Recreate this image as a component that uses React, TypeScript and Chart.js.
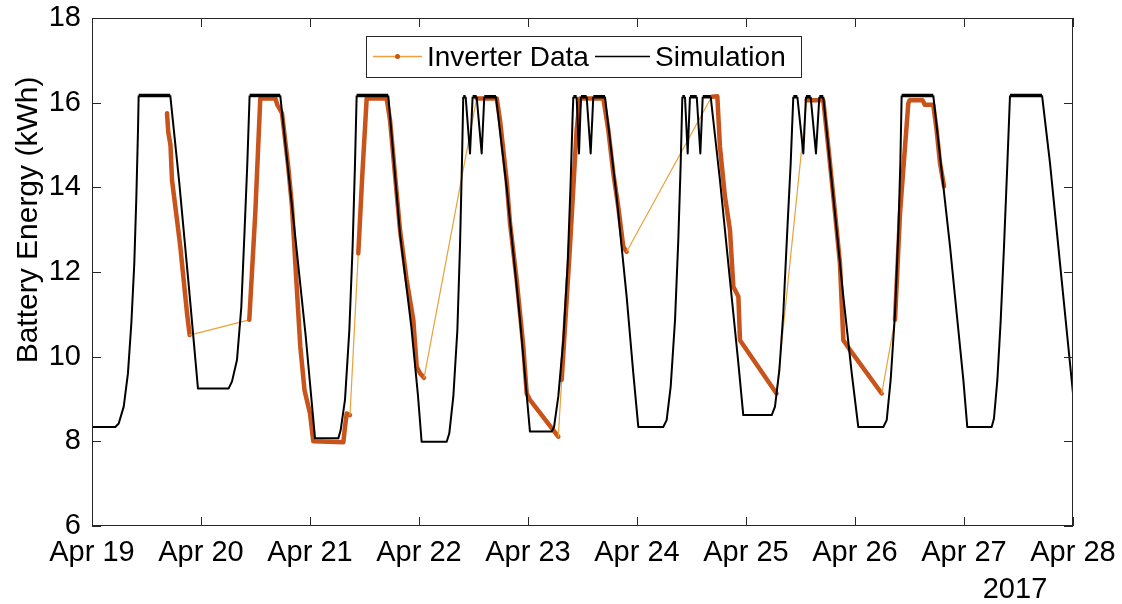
import React, { useEffect, useRef } from 'react';
import { Chart, registerables } from 'chart.js';

Chart.register(...registerables);

// x values are days since Apr 19 2017 00:00
const dayLabels = ['Apr 19', 'Apr 20', 'Apr 21', 'Apr 22', 'Apr 23', 'Apr 24', 'Apr 25', 'Apr 26', 'Apr 27', 'Apr 28'];
const yearLabel = '2017';
const yAxisTitle = 'Battery Energy (kWh)';
const seriesNames = ['Inverter Data', 'Simulation'];

const simDays = [
  0, 0.214, 0.245, 0.291, 0.33, 0.361, 0.388, 0.407, 0.422, 0.428, 0.718,
  0.801, 0.887, 0.972, 1.254, 1.284, 1.33, 1.37, 1.4, 1.425, 1.446, 1.727,
  1.881, 1.96, 2.046, 2.26, 2.281, 2.321, 2.361, 2.391, 2.413, 2.428, 2.718,
  2.826, 2.93, 2.99, 3.024, 3.254, 3.278, 3.315, 3.352, 3.376, 3.394, 3.406,
  3.428, 3.468, 3.492, 3.529, 3.575, 3.599, 3.706,
  3.804, 3.926, 4.018, 4.217, 4.239, 4.278, 4.324, 4.364, 4.392, 4.41, 4.416,
  4.446, 4.468, 4.486, 4.538, 4.575, 4.599, 4.706,
  4.813, 4.905, 4.966, 5.012, 5.241, 5.272, 5.309, 5.349, 5.379, 5.401, 5.416,
  5.44, 5.465, 5.486, 5.548, 5.581, 5.603, 5.676,
  5.761, 5.853, 5.93, 5.975, 6.236, 6.266, 6.306, 6.342, 6.379, 6.41, 6.434,
  6.471, 6.526, 6.55, 6.593, 6.642, 6.673, 6.709,
  6.801, 6.893, 6.97, 7.03, 7.26, 7.291, 7.327, 7.367, 7.398, 7.416, 7.428, 7.718,
  7.872, 7.933, 7.994, 8.03, 8.254, 8.275, 8.306, 8.337, 8.367, 8.398, 8.422, 8.716,
  8.789, 8.881, 8.957, 9.0,
];
const simEnergy = [
  8.34, 8.34, 8.42, 8.82, 9.61, 10.79, 12.2, 13.78, 15.35, 16.17, 16.17,
  14.1, 11.7, 9.25, 9.25, 9.41, 9.92, 11.18, 12.99, 14.57, 16.17, 16.17,
  12.44, 10.5, 8.07, 8.07, 8.26, 8.98, 10.63, 12.6, 14.57, 16.17, 16.17,
  12.9, 10.7, 9.1, 7.99, 7.99, 8.19, 9.06, 10.63, 12.6, 14.57, 16.14,
  16.14, 14.8, 16.14, 16.14, 14.8, 16.14, 16.14,
  14.0, 10.9, 8.23, 8.23, 8.34, 9.06, 10.39, 12.2, 14.17, 15.75, 16.14,
  16.14, 14.8, 16.14, 16.14, 14.8, 16.14, 16.14,
  13.78, 11.42, 9.61, 8.34, 8.34, 8.5, 9.29, 10.87, 12.76, 14.57, 16.14,
  16.14, 14.8, 16.14, 16.14, 14.8, 16.14, 16.14,
  14.17, 11.81, 9.84, 8.62, 8.62, 8.82, 9.68, 11.02, 12.99, 14.57, 16.14,
  16.14, 14.8, 16.14, 16.14, 14.8, 16.14, 16.14,
  13.78, 11.42, 9.61, 8.34, 8.34, 8.5, 9.45, 11.02, 12.99, 14.57, 16.17, 16.17,
  12.6, 11.02, 9.45, 8.34, 8.34, 8.54, 9.45, 10.87, 12.6, 14.57, 16.17, 16.17,
  14.57, 12.2, 10.24, 9.13,
];

// Inverter data: continuous logged runs as [day, kWh]
const inverterRun1: [number, number][] = [
  [0.688, 15.75], [0.7, 15.3], [0.72, 15.0], [0.734, 14.17], [0.78, 13.23],
  [0.81, 12.6], [0.841, 11.81], [0.872, 11.02], [0.896, 10.51],
];
const inverterRun2: [number, number][] = [
  [1.443, 10.87], [1.498, 13.39], [1.544, 16.1], [1.682, 16.1], [1.7, 15.95],
  [1.743, 15.75], [1.8, 14.5], [1.835, 13.54], [1.87, 12.0], [1.911, 10.24],
  [1.95, 9.2], [2.0, 8.66], [2.03, 8.0], [2.306, 7.98], [2.321, 8.34],
  [2.337, 8.66], [2.367, 8.62],
];
const inverterRun3: [number, number][] = [
  [2.443, 12.44], [2.48, 14.3], [2.52, 16.1], [2.703, 16.1], [2.734, 15.59],
  [2.826, 12.99], [2.887, 11.81], [2.948, 10.87], [2.979, 9.76], [3.009, 9.61],
  [3.046, 9.5],
];
const inverterRun4: [number, number][] = [
  [3.529, 16.1], [3.713, 16.1], [3.743, 15.59], [3.804, 14.17], [3.835, 13.15],
  [3.896, 11.81], [3.957, 10.24], [3.988, 9.13], [4.018, 8.98], [4.278, 8.11],
];
const inverterRun5: [number, number][] = [
  [4.309, 9.45], [4.385, 12.6], [4.446, 15.35], [4.477, 16.1], [4.691, 16.1],
  [4.737, 15.35], [4.783, 14.33], [4.828, 13.54], [4.874, 12.6], [4.905, 12.48],
];
const inverterRun6: [number, number][] = [
  [5.685, 16.14], [5.737, 16.15], [5.761, 14.96], [5.807, 13.78], [5.853, 12.99],
  [5.884, 11.65], [5.93, 11.42], [5.945, 10.39], [6.28, 9.13],
];
const inverterRun7: [number, number][] = [
  [6.557, 16.06], [6.709, 16.06], [6.755, 14.96], [6.817, 13.39], [6.862, 12.2],
  [6.893, 10.39], [6.954, 10.16], [7.245, 9.13],
];
const inverterRun8: [number, number][] = [
  [7.367, 10.87], [7.413, 13.39], [7.459, 14.96], [7.489, 15.98], [7.5, 16.06],
  [7.62, 16.06], [7.64, 15.95], [7.718, 15.95], [7.749, 15.35], [7.78, 14.57],
  [7.817, 14.02],
];
const inverterRuns = [
  inverterRun1, inverterRun2, inverterRun3, inverterRun4,
  inverterRun5, inverterRun6, inverterRun7, inverterRun8,
];

const ORANGE = '#C8531B';
const ORANGE_THIN = '#EBA03A';
const AXIS = '#262626';
const FONT = "'Liberation Sans', Arial, Helvetica, sans-serif";

export default function App() {
  const canvasRef = useRef<HTMLCanvasElement | null>(null);

  useEffect(() => {
    document.body.style.margin = '0';
    const canvas = canvasRef.current;
    if (!canvas) return;

    const invData: { x: number; y: number }[] = [];
    const runStarts = new Set<number>();
    inverterRuns.forEach((run) => {
      runStarts.add(invData.length);
      run.forEach(([x, y]) => invData.push({ x, y }));
    });
    const simData = simDays.map((d, i) => ({ x: d, y: simEnergy[i] }));

    const zeroPad = (s: any) => {
      s.paddingTop = 0;
      s.paddingBottom = 0;
      s.paddingLeft = 0;
      s.paddingRight = 0;
    };

    const framePlugin = {
      id: 'matlabFrame',
      afterDraw(chart: any) {
        const { ctx, chartArea } = chart;
        const { left, right, top, bottom } = chartArea;
        const xs = chart.scales.x;
        const ys = chart.scales.y;
        ctx.save();
        ctx.strokeStyle = AXIS;
        ctx.lineWidth = 1;
        ctx.strokeRect(left + 0.5, top + 0.5, right - left - 1, bottom - top - 1);
        const tl = 9;
        ctx.beginPath();
        xs.ticks.forEach((t: any) => {
          const px = Math.round(xs.getPixelForValue(t.value)) + 0.5;
          ctx.moveTo(px, bottom);
          ctx.lineTo(px, bottom - tl);
          ctx.moveTo(px, top);
          ctx.lineTo(px, top + tl);
        });
        ys.ticks.forEach((t: any) => {
          const py = Math.round(ys.getPixelForValue(t.value)) + 0.5;
          ctx.moveTo(left, py);
          ctx.lineTo(left + tl, py);
          ctx.moveTo(right, py);
          ctx.lineTo(right - tl, py);
        });
        ctx.stroke();

        // y axis title
        ctx.fillStyle = '#000';
        ctx.save();
        ctx.translate(29, 220);
        ctx.rotate(-Math.PI / 2);
        ctx.font = `30px ${FONT}`;
        ctx.textAlign = 'center';
        ctx.textBaseline = 'middle';
        ctx.fillText(yAxisTitle, 0, 0);
        ctx.restore();

        // year label
        ctx.font = `29px ${FONT}`;
        ctx.textAlign = 'center';
        ctx.textBaseline = 'middle';
        ctx.fillText(yearLabel, right - 58, 590);

        // legend
        const lx = 366, ly = 36, lw = 435, lh = 41;
        ctx.fillStyle = '#fff';
        ctx.fillRect(lx, ly, lw, lh);
        ctx.strokeStyle = AXIS;
        ctx.strokeRect(lx + 0.5, ly + 0.5, lw, lh);
        const my = ly + 20.5;
        ctx.strokeStyle = ORANGE_THIN;
        ctx.lineWidth = 1.5;
        ctx.beginPath();
        ctx.moveTo(373, my);
        ctx.lineTo(422, my);
        ctx.stroke();
        ctx.fillStyle = ORANGE;
        ctx.beginPath();
        ctx.arc(397.5, my, 2.5, 0, Math.PI * 2);
        ctx.fill();
        ctx.strokeStyle = '#000';
        ctx.lineWidth = 1.5;
        ctx.beginPath();
        ctx.moveTo(595, my);
        ctx.lineTo(650, my);
        ctx.stroke();
        ctx.fillStyle = '#000';
        ctx.font = `28px ${FONT}`;
        ctx.textAlign = 'left';
        ctx.textBaseline = 'alphabetic';
        ctx.fillText(seriesNames[0], 427, 66);
        ctx.fillText(seriesNames[1], 655, 66);
        ctx.restore();
      },
    };

    const chart = new Chart(canvas, {
      type: 'line',
      data: {
        datasets: [
          {
            label: seriesNames[1],
            data: simData,
            borderColor: '#000',
            borderWidth: 2,
            pointRadius: 0,
            tension: 0,
            borderJoinStyle: 'round',
            order: 0,
            segment: {
              // full-battery plateaus look heavier in the original (dense oscillating samples)
              borderWidth: (c: any) => (c.p0.parsed.y > 16 && c.p1.parsed.y > 16 ? 3.5 : 2),
            },
          },
          {
            label: seriesNames[0],
            data: invData,
            borderColor: ORANGE,
            borderWidth: 4.5,
            pointRadius: 0,
            tension: 0,
            borderJoinStyle: 'round',
            borderCapStyle: 'round',
            order: 1,
            segment: {
              borderWidth: (c: any) => (runStarts.has(c.p1DataIndex) ? 1.2 : 4.5),
              borderColor: (c: any) => (runStarts.has(c.p1DataIndex) ? ORANGE_THIN : ORANGE),
            },
          },
        ],
      },
      options: {
        animation: false,
        responsive: false,
        parsing: false as any,
        normalized: true,
        layout: { padding: { top: 18, right: 49, left: 0, bottom: 0 } },
        plugins: {
          legend: { display: false },
          tooltip: { enabled: false },
        },
        scales: {
          x: {
            type: 'linear',
            min: 0,
            max: 9,
            grid: { display: false, drawTicks: false },
            border: { display: false },
            afterFit: (s: any) => { s.height = 78; zeroPad(s); },
            ticks: {
              stepSize: 1,
              autoSkip: false,
              maxRotation: 0,
              padding: 10,
              color: '#000',
              font: { family: FONT, size: 29 },
              callback: (v: any) => dayLabels[Math.round(Number(v))] ?? '',
            },
          },
          y: {
            type: 'linear',
            min: 6,
            max: 18,
            grid: { display: false, drawTicks: false },
            border: { display: false },
            afterFit: (s: any) => { s.width = 92; zeroPad(s); },
            ticks: {
              stepSize: 2,
              padding: 11,
              color: '#000',
              font: { family: FONT, size: 29 },
            },
            title: { display: false },
          },
        },
      },
      plugins: [framePlugin],
    } as any);

    return () => chart.destroy();
  }, []);

  return (
    <div style={{ position: 'fixed', left: 0, top: 0, width: 1122, height: 604, background: '#fff' }}>
      <canvas ref={canvasRef} width={1122} height={604} style={{ display: 'block' }} />
    </div>
  );
}
